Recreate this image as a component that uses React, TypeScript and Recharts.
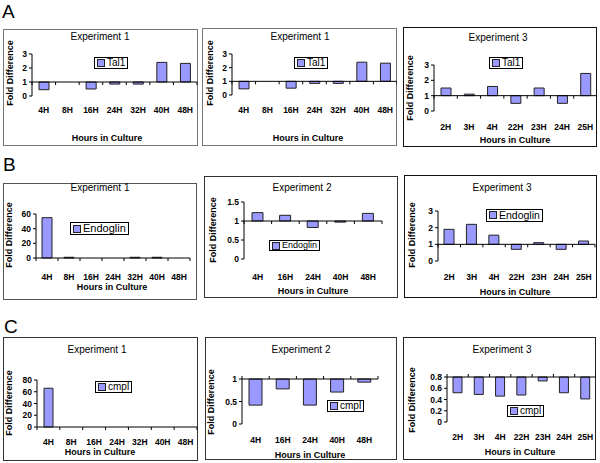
import React from 'react';
import { BarChart, Bar, XAxis, YAxis, ReferenceLine } from 'recharts';

// Categories (hours in culture)
const hoursA = ['4H', '8H', '16H', '24H', '32H', '40H', '48H'];
const hoursB = ['4H', '16H', '24H', '40H', '48H'];
const hoursC = ['2H', '3H', '4H', '22H', '23H', '24H', '25H'];

// Fold difference values
const tal1Exp1 = [0.45, 1, 0.5, 0.85, 0.85, 2.4, 2.33];
const tal1Exp3 = [1.5, 1.1, 1.6, 0.5, 1.5, 0.5, 2.45];
const endoglinExp1 = [55, 1, 0, 0, 1, 1, 0];
const endoglinExp2 = [1.22, 1.15, 0.83, 0.97, 1.2];
const endoglinExp3 = [1.9, 2.2, 1.55, 0.7, 1.1, 0.7, 1.2];
const cmplExp1 = [66, 0, 0, 0, 0, 0, 0];
const cmplExp2 = [0.42, 0.78, 0.42, 0.71, 0.93];
const cmplExp3 = [0.52, 0.49, 0.46, 0.48, 0.73, 0.52, 0.41];

// Y axis tick sets
const ticks3 = [0, 1, 2, 3];
const ticks60 = [0, 20, 40, 60];
const ticks15 = [0, 0.5, 1, 1.5];
const ticks80 = [0, 20, 40, 60, 80];
const ticks1 = [0, 0.5, 1];
const ticks08 = [0, 0.2, 0.4, 0.6, 0.8];

const FONT = '"Liberation Sans", Arial, sans-serif';
const BAR = '#9999ff';

interface PanelDef {
  title: string;
  gene: string;
  hours: string[];
  values: number[];
  ticks: number[];
  base: number;
  box: [number, number, number, number];
  plot: [number, number, number, number];
  titlePos: [number, number];
  xLabelY: number;
  xTitle: [number, number];
  yTitle: [number, number];
  legend: [number, number];
  legendFont: number;
  barSize: number;
  border: string;
  tickUp?: boolean;
}

const panels: PanelDef[] = [
  {
    title: 'Experiment 1', gene: 'Tal1', hours: hoursA, values: tal1Exp1, ticks: ticks3, base: 1,
    box: [3, 29, 195, 117], plot: [32, 54, 197, 96], titlePos: [100, 37], xLabelY: 110,
    xTitle: [107, 138], yTitle: [10, 73], legend: [94, 57], legendFont: 10, barSize: 10, border: '#777',
  },
  {
    title: 'Experiment 1', gene: 'Tal1', hours: hoursA, values: tal1Exp1, ticks: ticks3, base: 1,
    box: [202, 28, 195, 118], plot: [232, 54, 397, 95], titlePos: [300, 37], xLabelY: 110,
    xTitle: [308, 138], yTitle: [210, 73], legend: [294, 57], legendFont: 10, barSize: 10, border: '#777',
  },
  {
    title: 'Experiment 3', gene: 'Tal1', hours: hoursC, values: tal1Exp3, ticks: ticks3, base: 1,
    box: [403, 27, 194, 120], plot: [434, 65, 597, 111], titlePos: [498, 38], xLabelY: 127,
    xTitle: [515, 140], yTitle: [410, 88], legend: [489, 57], legendFont: 10, barSize: 10, border: '#111',
  },
  {
    title: 'Experiment 1', gene: 'Endoglin', hours: hoursA, values: endoglinExp1, ticks: ticks60, base: 0,
    box: [3, 183, 194, 117], plot: [36, 214, 190, 258], titlePos: [100, 188], xLabelY: 277,
    xTitle: [112, 287], yTitle: [9, 235], legend: [70, 222], legendFont: 11, barSize: 10, border: '#555',
  },
  {
    title: 'Experiment 2', gene: 'Endoglin', hours: hoursB, values: endoglinExp2, ticks: ticks15, base: 1,
    box: [204, 176, 194, 122], plot: [244, 202, 382, 259], titlePos: [302, 188], xLabelY: 277,
    xTitle: [313, 291], yTitle: [213, 230], legend: [269, 240], legendFont: 9, barSize: 11, border: '#333',
  },
  {
    title: 'Experiment 3', gene: 'Endoglin', hours: hoursC, values: endoglinExp3, ticks: ticks3, base: 1,
    box: [404, 175, 193, 123], plot: [438, 211, 595, 261], titlePos: [502, 188], xLabelY: 277,
    xTitle: [515, 292], yTitle: [412, 235], legend: [486, 209], legendFont: 10.5, barSize: 10, border: '#111',
  },
  {
    title: 'Experiment 1', gene: 'cmpl', hours: hoursA, values: cmplExp1, ticks: ticks80, base: 0,
    box: [3, 337, 195, 124], plot: [37, 380, 197, 427], titlePos: [97, 350], xLabelY: 442,
    xTitle: [100, 452], yTitle: [9, 403], legend: [95, 381], legendFont: 10, barSize: 9, border: '#333',
  },
  {
    title: 'Experiment 2', gene: 'cmpl', hours: hoursB, values: cmplExp2, ticks: ticks1, base: 1,
    box: [205, 337, 192, 123], plot: [242, 379, 378, 424], titlePos: [301, 350], xLabelY: 440,
    xTitle: [310, 455], yTitle: [211, 402], legend: [327, 400], legendFont: 10, barSize: 13, border: '#333', tickUp: true,
  },
  {
    title: 'Experiment 3', gene: 'cmpl', hours: hoursC, values: cmplExp3, ticks: ticks08, base: 0.8,
    box: [403, 337, 193, 123], plot: [447, 377, 596, 422], titlePos: [502, 350], xLabelY: 437,
    xTitle: [520, 452], yTitle: [412, 400], legend: [507, 405], legendFont: 10, barSize: 9, border: '#222', tickUp: true,
  },
];

const letters: Array<[string, number, number]> = [
  ['A', 2, 2],
  ['B', 3, 155],
  ['C', 4, 317],
];

/**
 * Category tick marks drawn along the crossing axis line
 */
const crossTicks = (n: number, up?: boolean) => (props: any) => {
  const vb = props.viewBox || {};
  const { x, y, width } = vb;
  if (typeof x !== 'number') return null;
  const step = width / n;
  return (
    <g>
      {Array.from({ length: n + 1 }, (_, i) => (
        <line
          key={i}
          x1={x + i * step}
          x2={x + i * step}
          y1={y}
          y2={up ? y - 3 : y + 3}
          stroke="#000"
          strokeWidth={1}
        />
      ))}
    </g>
  );
};

const centered = (cx: number, cy: number, extra: React.CSSProperties = {}): React.CSSProperties => ({
  position: 'absolute',
  left: cx,
  top: cy,
  transform: 'translate(-50%, -50%)',
  whiteSpace: 'nowrap',
  fontFamily: FONT,
  color: '#000',
  lineHeight: 1,
  ...extra,
});

function Panel({ p }: { p: PanelDef }) {
  const [bx, by, bw, bh] = p.box;
  const [pl, pt, pr, pb] = p.plot;
  const data = p.hours.map((hour, i) => ({ hour, value: p.values[i] }));
  const max = p.ticks[p.ticks.length - 1];

  return (
    <>
      <div
        style={{
          position: 'absolute', left: bx, top: by, width: bw, height: bh,
          border: `1px solid ${p.border}`, boxSizing: 'border-box', background: '#fff',
        }}
      />
      <div style={{ position: 'absolute', left: bx, top: by }}>
        <BarChart
          width={bw}
          height={bh}
          data={data}
          margin={{ top: pt - by, right: bx + bw - pr, left: 0, bottom: 0 }}
        >
          <XAxis
            dataKey="hour"
            height={by + bh - pb}
            axisLine={false}
            tickLine={false}
            tickSize={0}
            tickMargin={p.xLabelY - pb - 3}
            interval={0}
            tick={{ fontSize: 8.5, fontWeight: 'bold', fill: '#000', fontFamily: FONT }}
          />
          <YAxis
            width={pl - bx}
            type="number"
            domain={[0, max]}
            ticks={p.ticks}
            interval={0}
            axisLine={{ stroke: '#000' }}
            tickLine={{ stroke: '#000' }}
            tickSize={3}
            tickMargin={2}
            tick={{ fontSize: 8.5, fontWeight: 'bold', fill: '#000', fontFamily: FONT }}
          />
          <Bar
            dataKey={(d: any) => [p.base, d.value]}
            name={p.gene}
            fill={BAR}
            stroke="#222"
            strokeWidth={1}
            barSize={p.barSize}
            isAnimationActive={false}
          />
          <ReferenceLine
            y={p.base}
            stroke="#000"
            strokeWidth={1}
            label={crossTicks(p.hours.length, p.tickUp)}
          />
        </BarChart>
      </div>

      <div style={centered(p.titlePos[0], p.titlePos[1], { fontSize: 10 })}>{p.title}</div>
      <div style={centered(p.xTitle[0], p.xTitle[1], { fontSize: 9, fontWeight: 'bold' })}>
        Hours in Culture
      </div>
      <div
        style={{
          ...centered(p.yTitle[0], p.yTitle[1], { fontSize: 9, fontWeight: 'bold' }),
          transform: 'translate(-50%, -50%) rotate(-90deg)',
        }}
      >
        Fold Difference
      </div>

      <div
        style={{
          position: 'absolute', left: p.legend[0], top: p.legend[1],
          border: '1px solid #000', background: '#fff', padding: '0 2px',
          display: 'flex', alignItems: 'center', gap: 2,
          fontFamily: FONT, fontSize: p.legendFont, lineHeight: `${p.legendFont}px`,
          whiteSpace: 'nowrap',
        }}
      >
        <span
          style={{
            display: 'inline-block', width: 6, height: 6,
            background: BAR, border: '1px solid #222',
          }}
        />
        <span>{p.gene}</span>
      </div>
    </>
  );
}

export default function App() {
  return (
    <div
      style={{
        position: 'absolute', left: 0, top: 0, width: 600, height: 463,
        background: '#fff', overflow: 'hidden',
      }}
    >
      {letters.map(([l, x, y]) => (
        <div
          key={l}
          style={{
            position: 'absolute', left: x, top: y, fontSize: 19, lineHeight: 1,
            fontFamily: FONT, color: '#000',
          }}
        >
          {l}
        </div>
      ))}
      {panels.map((p, i) => (
        <Panel key={i} p={p} />
      ))}
    </div>
  );
}
